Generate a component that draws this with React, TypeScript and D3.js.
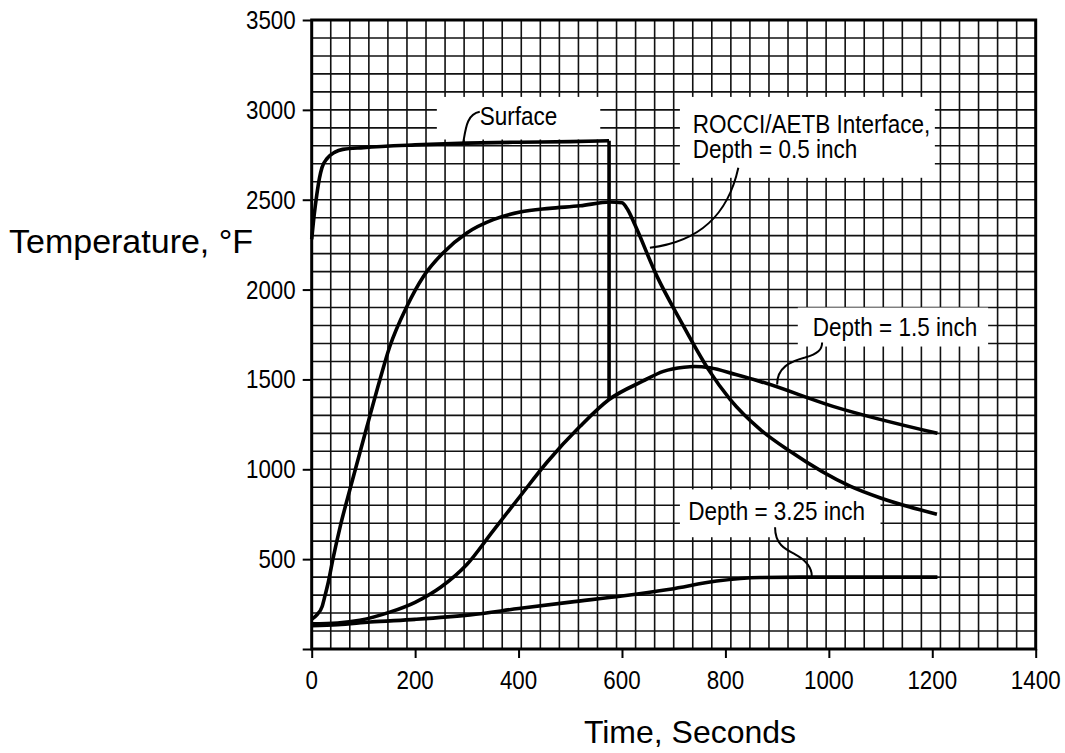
import React, { useEffect, useRef } from "react";
import * as d3 from "d3";

// time (s), temperature (F)
const surface: [number, number][] = [
  [0, 2280], [5, 2420], [10, 2530], [15, 2620], [20, 2680], [30, 2730],
  [45, 2765], [60, 2780], [100, 2790], [200, 2805], [300, 2815],
  [400, 2820], [500, 2823], [575, 2828],
];
const surfaceDrop: [number, number][] = [[575, 2828], [575, 1385]];

const interface05: [number, number][] = [
  [0, 165], [10, 190], [20, 235], [26, 300], [32, 370], [41, 500],
  [55, 680], [74, 889], [107, 1239], [132, 1500], [151, 1683], [184, 1906],
  [216, 2073], [254, 2204], [300, 2315], [351, 2389], [403, 2432],
  [460, 2452], [519, 2466], [577, 2487], [600, 2483], [612, 2440],
  [625, 2360], [668, 2072], [712, 1833], [767, 1556], [809, 1389],
  [867, 1222], [925, 1100], [1041, 906], [1100, 840], [1209, 750],
];

const depth15: [number, number][] = [
  [0, 140], [50, 145], [93, 160], [151, 205], [200, 260], [250, 345],
  [300, 470], [350, 655], [403, 850], [455, 1039], [519, 1239],
  [575, 1388], [640, 1490], [680, 1545], [720, 1568], [740, 1572],
  [770, 1565], [820, 1527], [867, 1489], [1008, 1350], [1210, 1200],
];

const depth325: [number, number][] = [
  [0, 130], [50, 135], [113, 150], [200, 165], [306, 190], [400, 225],
  [500, 261], [600, 295], [693, 333], [783, 378], [867, 398],
  [950, 400], [1210, 400],
];

const xTicks = [0, 200, 400, 600, 800, 1000, 1200, 1400];
const yTicks = [0, 500, 1000, 1500, 2000, 2500, 3000, 3500];

const sans = "'Liberation Sans', Arial, Helvetica, sans-serif";

const App = () => {
  const svgRef = useRef<SVGSVGElement>(null);

  useEffect(() => {
    const svg = d3.select(svgRef.current);
    svg.selectAll("*").remove();

    const x = d3.scaleLinear().domain([0, 1400]).range([311.7, 1035.7]);
    const y = d3.scaleLinear().domain([0, 3500]).range([649, 20]);

    // the scan uses a narrow face, so squeeze the regular one
    const narrowText = (lines: string[], px: number, py: number, anchor = "start", size = 26, sx = 0.86) => {
      const t = svg.append("text")
        .attr("transform", `translate(${px},${py}) scale(${sx},1)`)
        .attr("text-anchor", anchor)
        .attr("font-family", sans).attr("font-size", size);
      lines.forEach((l, i) => {
        t.append("tspan").attr("x", 0).attr("dy", i === 0 ? 0 : 25).text(l);
      });
      return t;
    };

    // graph paper grid
    const grid = svg.append("g").attr("stroke", "#111").attr("stroke-width", 1.6);
    d3.range(1, 35).forEach((i) => {
      grid.append("line")
        .attr("x1", x(0)).attr("x2", x(1400))
        .attr("y1", y(i * 100)).attr("y2", y(i * 100));
    });
    d3.range(1, 38).forEach((i) => {
      grid.append("line")
        .attr("x1", x((i * 1400) / 38)).attr("x2", x((i * 1400) / 38))
        .attr("y1", y(0)).attr("y2", y(3500));
    });

    // white label boxes (hide the grid under the labels)
    const boxes = [
      [242, 558, 3072, 2835],
      [712, 1205, 3072, 2622],
      [940, 1308, 1900, 1683],
      [712, 1100, 888, 622],
    ];
    boxes.forEach(([t0, t1, T0, T1]) => {
      svg.append("rect")
        .attr("x", x(t0)).attr("y", y(T0))
        .attr("width", x(t1) - x(t0)).attr("height", y(T1) - y(T0))
        .attr("fill", "white");
    });

    // frame
    svg.append("rect")
      .attr("x", x(0)).attr("y", y(3500))
      .attr("width", x(1400) - x(0)).attr("height", y(0) - y(3500))
      .attr("fill", "none").attr("stroke", "black").attr("stroke-width", 3);

    // axes (tick marks from d3, labels drawn narrow)
    const xAxis = svg.append("g")
      .attr("transform", `translate(0,${y(0)})`)
      .call(d3.axisBottom(x).tickValues(xTicks).tickSize(9).tickFormat(() => "").tickSizeOuter(0));
    xAxis.select(".domain").remove();
    xAxis.selectAll("line").attr("stroke-width", 2);
    xTicks.forEach((t) => narrowText([String(t)], x(t), y(0) + 40, "middle"));

    const yAxis = svg.append("g")
      .attr("transform", `translate(${x(0)},0)`)
      .call(d3.axisLeft(y).tickValues(yTicks).tickSize(9).tickFormat(() => "").tickSizeOuter(0));
    yAxis.select(".domain").remove();
    yAxis.selectAll("line").attr("stroke-width", 2);
    yTicks.filter((v) => v > 0).forEach((v) => narrowText([String(v)], x(0) - 16, y(v) + 9, "end"));

    // curves
    const line = d3.line<[number, number]>()
      .x((d) => x(d[0]))
      .y((d) => y(d[1]))
      .curve(d3.curveMonotoneX);
    const straight = d3.line<[number, number]>()
      .x((d) => x(d[0]))
      .y((d) => y(d[1]));

    const curves = svg.append("g")
      .attr("fill", "none").attr("stroke", "black")
      .attr("stroke-width", 3.6).attr("stroke-linejoin", "round");
    curves.append("path").attr("d", line(surface));
    curves.append("path").attr("d", straight(surfaceDrop));
    curves.append("path").attr("d", line(interface05));
    curves.append("path").attr("d", line(depth15));
    curves.append("path").attr("d", line(depth325));

    // leader lines, given in data units (start + cubic triples)
    const leaders: [number, number][][] = [
      [[293, 2817], [298, 2900], [300, 2975], [325, 2989]],
      [[654, 2233], [751, 2267], [805, 2417], [825, 2678]],
      [[900, 1472], [900, 1566], [925, 1600], [954, 1622], [979, 1644], [987, 1666], [987, 1706]],
      [[896, 678], [896, 583], [915, 556], [934, 528], [959, 489], [967, 444], [967, 406]],
    ];
    leaders.forEach((pts) => {
      const p = pts.map(([t, T]) => [x(t), y(T)]);
      let d = `M${p[0][0]},${p[0][1]}`;
      for (let i = 1; i + 2 < p.length; i += 3) {
        d += ` C${p[i][0]},${p[i][1]} ${p[i + 1][0]},${p[i + 1][1]} ${p[i + 2][0]},${p[i + 2][1]}`;
      }
      svg.append("path").attr("d", d)
        .attr("fill", "none").attr("stroke", "black").attr("stroke-width", 2);
    });

    // annotation labels
    const labels: [string[], number, number][] = [
      [["Surface"], 325, 2916],
      [["ROCCI/AETB Interface,", "Depth = 0.5 inch"], 737, 2872],
      [["Depth = 1.5 inch"], 969, 1744],
      [["Depth = 3.25 inch"], 728, 717],
    ];
    labels.forEach(([txt, t, T]) => narrowText(txt, x(t), y(T), "start", 25, 0.9));

    // axis titles
    svg.append("text")
      .attr("x", 9).attr("y", 253)
      .attr("font-family", sans).attr("font-size", 34)
      .text("Temperature, °F");
    svg.append("text")
      .attr("x", 690).attr("y", 743)
      .attr("text-anchor", "middle")
      .attr("font-family", sans).attr("font-size", 32)
      .text("Time, Seconds");
  }, []);

  return (
    <svg
      ref={svgRef}
      width={1065}
      height={753}
      style={{ position: "absolute", left: 0, top: 0, background: "white" }}
    />
  );
};

export default App;
